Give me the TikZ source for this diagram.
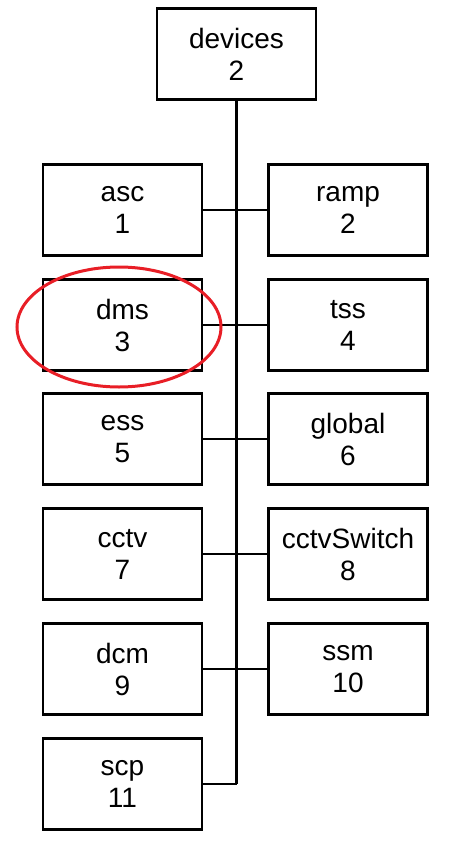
\documentclass[tikz,border=0pt]{standalone}
\usepackage{fontspec}
\setmainfont{Liberation Sans}
\usepackage{tikz}
\usetikzlibrary{positioning}
\definecolor{markred}{RGB}{232,30,38}

\begin{document}
\begin{tikzpicture}[x=1pt, y=-1pt,
    dev/.style={draw, line width=2.5pt, minimum width=159pt, minimum height=91pt,
                align=center, inner sep=0pt, font=\fontsize{28}{32}\selectfont},
    link/.style={line width=2.5pt}]
    \useasboundingbox (0,0) rectangle (465,851);
        \node[dev] (devices) at (236.5,54) {devices\\2};
        \node[dev] (asc) at (122.5,210) {asc\\1};
        \node[dev] (ramp) at (348,210) {ramp\\2};
        \node[dev] (dms) at (122.5,325) {dms\\3};
        \node[dev] (tss) at (348,325) {tss\\4};
        \node[dev] (ess) at (122.5,439) {ess\\5};
        \node[dev] (global) at (348,439) {global\\6};
        \node[dev] (cctv) at (122.5,554) {cctv\\7};
        \node[dev] (cctvSwitch) at (348,554) {cctvSwitch\\8};
        \node[dev] (dcm) at (122.5,669) {dcm\\9};
        \node[dev] (ssm) at (348,669) {ssm\\10};
        \node[dev] (scp) at (122.5,784) {scp\\11};
        \coordinate (trunkend) at (devices |- scp);
        \draw[link] (devices) -- (trunkend);
        \draw[link] (asc) -- (ramp);
        \draw[link] (dms) -- (tss);
        \draw[link] (ess) -- (global);
        \draw[link] (cctv) -- (cctvSwitch);
        \draw[link] (dcm) -- (ssm);
        \draw[link] (scp) -- (trunkend);
        % highlight
        \draw[markred, line width=3pt] (119,327) ellipse (102pt and 60pt);
    \end{tikzpicture}
\end{document}
